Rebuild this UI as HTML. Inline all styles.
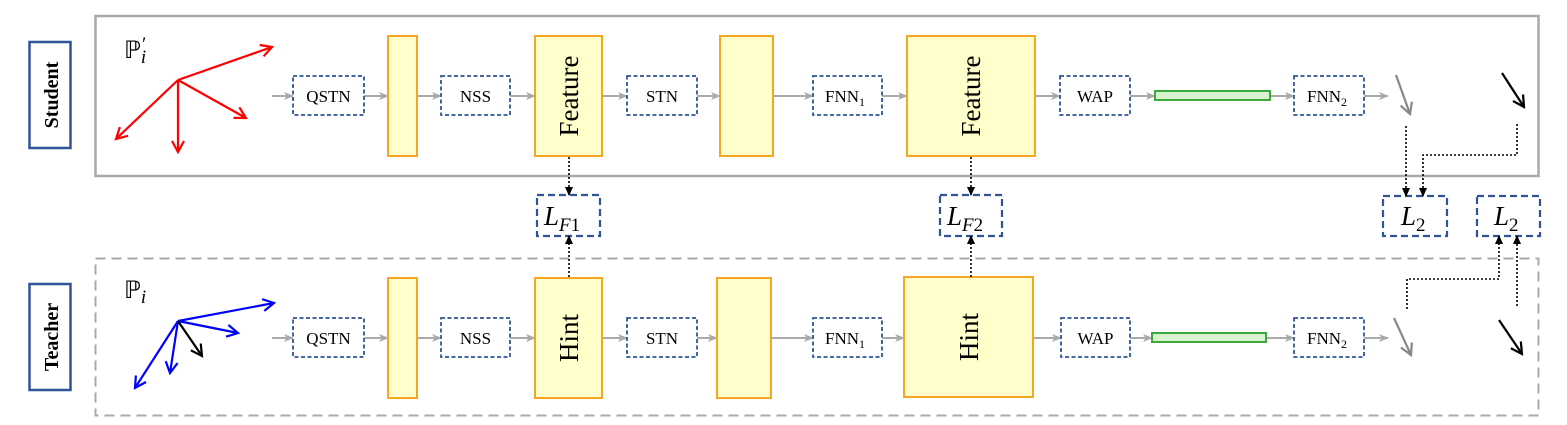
<!DOCTYPE html>
<html><head><meta charset="utf-8"><style>
html,body{margin:0;padding:0;background:#fff;}
svg{display:block;}
.t{font-family:"Liberation Serif",serif;}
</style></head><body>
<svg width="1567" height="425" viewBox="0 0 1567 425" xmlns="http://www.w3.org/2000/svg">
<defs>
<marker id="ag" markerWidth="10" markerHeight="10" refX="9" refY="5" orient="auto" markerUnits="userSpaceOnUse"><path d="M0,1 L10,5 L0,9 L2.5,5 Z" fill="#aaa"/></marker>
<marker id="ab" markerWidth="9" markerHeight="9" refX="8" refY="4.5" orient="auto" markerUnits="userSpaceOnUse"><path d="M0,0.5 L9,4.5 L0,8.5 Z" fill="#000"/></marker>
<marker id="ar" markerWidth="14" markerHeight="14" refX="12" refY="7" orient="auto" markerUnits="userSpaceOnUse"><path d="M1,1 L12,7 L1,13" fill="none" stroke="#f00" stroke-width="2.2"/></marker>
<marker id="abl" markerWidth="14" markerHeight="14" refX="12" refY="7" orient="auto" markerUnits="userSpaceOnUse"><path d="M1,1 L12,7 L1,13" fill="none" stroke="#00f" stroke-width="2.2"/></marker>
<marker id="ak" markerWidth="14" markerHeight="14" refX="12" refY="7" orient="auto" markerUnits="userSpaceOnUse"><path d="M1,1 L12,7 L1,13" fill="none" stroke="#000" stroke-width="2.2"/></marker>
<marker id="agr" markerWidth="14" markerHeight="14" refX="12" refY="7" orient="auto" markerUnits="userSpaceOnUse"><path d="M1,1 L12,7 L1,13" fill="none" stroke="#888" stroke-width="2.2"/></marker>
</defs>

<rect x="95.5" y="16" width="1443" height="160" fill="none" stroke="#aaa" stroke-width="2.5"/>
<rect x="95.5" y="258.5" width="1443" height="157" fill="none" stroke="#aaa" stroke-width="2" stroke-dasharray="10,6"/>

<rect x="29.5" y="42" width="41" height="106" fill="#fff" stroke="#2f5597" stroke-width="2.5"/>
<text class="t" transform="translate(58,95) rotate(-90)" text-anchor="middle" font-size="20" font-weight="bold">Student</text>
<rect x="29.5" y="284" width="41" height="106" fill="#fff" stroke="#2f5597" stroke-width="2.5"/>
<text class="t" transform="translate(58,337) rotate(-90)" text-anchor="middle" font-size="20" font-weight="bold">Teacher</text>

<text class="t" x="124" y="58" font-size="24">ℙ<tspan font-style="italic" font-size="19" dy="5">i</tspan><tspan font-size="19" dy="-13" dx="-4">′</tspan></text>
<text class="t" x="124" y="298" font-size="24">ℙ<tspan font-style="italic" font-size="19" dy="5">i</tspan></text>

<g stroke="#f00" stroke-width="2.2" fill="none">
<line x1="178" y1="80" x2="272" y2="47" marker-end="url(#ar)"/>
<line x1="178" y1="80" x2="116" y2="139" marker-end="url(#ar)"/>
<line x1="178" y1="80" x2="178" y2="152" marker-end="url(#ar)"/>
<line x1="178" y1="80" x2="246" y2="118" marker-end="url(#ar)"/>
</g>
<g stroke="#00f" stroke-width="2.2" fill="none">
<line x1="178" y1="321" x2="274" y2="303" marker-end="url(#abl)"/>
<line x1="178" y1="321" x2="135" y2="388" marker-end="url(#abl)"/>
<line x1="178" y1="321" x2="170" y2="373" marker-end="url(#abl)"/>
<line x1="178" y1="321" x2="238" y2="333" marker-end="url(#abl)"/>
</g>
<line x1="178" y1="321" x2="202" y2="356" stroke="#000" stroke-width="2.2" marker-end="url(#ak)"/>

<g stroke="#aaa" stroke-width="2" marker-end="url(#ag)">
<line x1="272" y1="96" x2="293" y2="96"/>
<line x1="364" y1="96" x2="388" y2="96"/>
<line x1="417" y1="96" x2="441" y2="96"/>
<line x1="510" y1="96" x2="535" y2="96"/>
<line x1="602" y1="96" x2="627" y2="96"/>
<line x1="697" y1="96" x2="720" y2="96"/>
<line x1="773" y1="96" x2="813" y2="96"/>
<line x1="882" y1="96" x2="907" y2="96"/>
<line x1="1035" y1="96" x2="1060" y2="96"/>
<line x1="1130" y1="96" x2="1155" y2="96"/>
<line x1="1270" y1="96" x2="1294" y2="96"/>
<line x1="1364" y1="96" x2="1388" y2="96"/>
</g>
<g fill="#fff" stroke="#2f5597" stroke-width="1.8" stroke-dasharray="4,2.5">
<rect x="293" y="76" width="71" height="39"/>
<rect x="441" y="76" width="69" height="39"/>
<rect x="627" y="76" width="70" height="39"/>
<rect x="813" y="76" width="69" height="39"/>
<rect x="1060" y="76" width="70" height="39"/>
<rect x="1294" y="76" width="70" height="39"/>
</g>
<g fill="#ffffcc" stroke="#f5a623" stroke-width="2">
<rect x="388" y="36" width="29" height="120"/>
<rect x="535" y="36" width="67" height="120"/>
<rect x="720" y="36" width="53" height="120"/>
<rect x="907" y="36" width="128" height="120"/>
</g>
<rect x="1155" y="91" width="115" height="9" fill="#d9f2d0" stroke="#3daa3d" stroke-width="2"/>
<g class="t" font-size="17" text-anchor="middle">
<text x="328.5" y="102">QSTN</text>
<text x="475.5" y="102">NSS</text>
<text x="662" y="102">STN</text>
<text x="845" y="102">FNN<tspan font-size="12" dy="4">1</tspan></text>
<text x="1095" y="102">WAP</text>
<text x="1327" y="102">FNN<tspan font-size="12" dy="4">2</tspan></text>
</g>
<text class="t" font-size="27" text-anchor="middle" transform="translate(578,96) rotate(-90)">Feature</text>
<text class="t" font-size="27" text-anchor="middle" transform="translate(980,96) rotate(-90)">Feature</text>
<line x1="1396" y1="75" x2="1410" y2="114" stroke="#888" stroke-width="2.2" marker-end="url(#agr)"/>
<line x1="1502" y1="73" x2="1524" y2="107" stroke="#000" stroke-width="2.2" marker-end="url(#ak)"/>

<g stroke="#aaa" stroke-width="2" marker-end="url(#ag)">
<line x1="272" y1="338" x2="293" y2="338"/>
<line x1="364" y1="338" x2="388" y2="338"/>
<line x1="417" y1="338" x2="441" y2="338"/>
<line x1="510" y1="338" x2="535" y2="338"/>
<line x1="602" y1="338" x2="627" y2="338"/>
<line x1="697" y1="338" x2="717" y2="338"/>
<line x1="771" y1="338" x2="813" y2="338"/>
<line x1="882" y1="338" x2="904" y2="338"/>
<line x1="1033" y1="338" x2="1061" y2="338"/>
<line x1="1130" y1="338" x2="1152" y2="338"/>
<line x1="1266" y1="338" x2="1294" y2="338"/>
<line x1="1364" y1="338" x2="1388" y2="338"/>
</g>
<g fill="#fff" stroke="#2f5597" stroke-width="1.8" stroke-dasharray="4,2.5">
<rect x="293" y="318" width="71" height="39"/>
<rect x="441" y="318" width="69" height="39"/>
<rect x="627" y="318" width="70" height="39"/>
<rect x="813" y="318" width="69" height="39"/>
<rect x="1061" y="318" width="69" height="39"/>
<rect x="1294" y="318" width="70" height="39"/>
</g>
<g fill="#ffffcc" stroke="#f5a623" stroke-width="2">
<rect x="388" y="278" width="29" height="120"/>
<rect x="535" y="278" width="67" height="120"/>
<rect x="717" y="278" width="54" height="120"/>
<rect x="904" y="277" width="129" height="120"/>
</g>
<rect x="1152" y="333" width="114" height="9" fill="#d9f2d0" stroke="#3daa3d" stroke-width="2"/>
<g class="t" font-size="17" text-anchor="middle">
<text x="328.5" y="344">QSTN</text>
<text x="475.5" y="344">NSS</text>
<text x="662" y="344">STN</text>
<text x="845" y="344">FNN<tspan font-size="12" dy="4">1</tspan></text>
<text x="1095.5" y="344">WAP</text>
<text x="1327" y="344">FNN<tspan font-size="12" dy="4">2</tspan></text>
</g>
<text class="t" font-size="27" text-anchor="middle" transform="translate(578,338) rotate(-90)">Hint</text>
<text class="t" font-size="27" text-anchor="middle" transform="translate(978,337) rotate(-90)">Hint</text>
<line x1="1394" y1="318" x2="1411" y2="355" stroke="#888" stroke-width="2.2" marker-end="url(#agr)"/>
<line x1="1499" y1="320" x2="1522" y2="354" stroke="#000" stroke-width="2.2" marker-end="url(#ak)"/>

<g fill="#fff" stroke="#2f5597" stroke-width="2.2" stroke-dasharray="7,4">
<rect x="537" y="195" width="63" height="41"/>
<rect x="940" y="195" width="62" height="41"/>
<rect x="1383" y="196" width="64" height="40"/>
<rect x="1477" y="196" width="63" height="40"/>
</g>
<g class="t" font-size="27" font-style="italic">
<text x="544" y="225">L<tspan font-size="19" dy="6">F</tspan><tspan font-size="19" font-style="normal">1</tspan></text>
<text x="947" y="225">L<tspan font-size="19" dy="6">F</tspan><tspan font-size="19" font-style="normal">2</tspan></text>
<text x="1401" y="225">L<tspan font-size="19" dy="6" font-style="normal">2</tspan></text>
<text x="1494" y="225">L<tspan font-size="19" dy="6" font-style="normal">2</tspan></text>
</g>

<g stroke="#000" stroke-width="1.6" stroke-dasharray="2,2" fill="none" marker-end="url(#ab)">
<line x1="569" y1="157" x2="569" y2="195"/>
<line x1="569" y1="277" x2="569" y2="236"/>
<line x1="971" y1="157" x2="971" y2="195"/>
<line x1="971" y1="277" x2="971" y2="236"/>
<line x1="1406" y1="126" x2="1406" y2="196"/>
<polyline points="1517,124 1517,155 1423,155 1423,196"/>
<polyline points="1407,309 1407,279 1499,279 1499,236"/>
<line x1="1517" y1="306" x2="1517" y2="236"/>
</g>
</svg>
</body></html>
